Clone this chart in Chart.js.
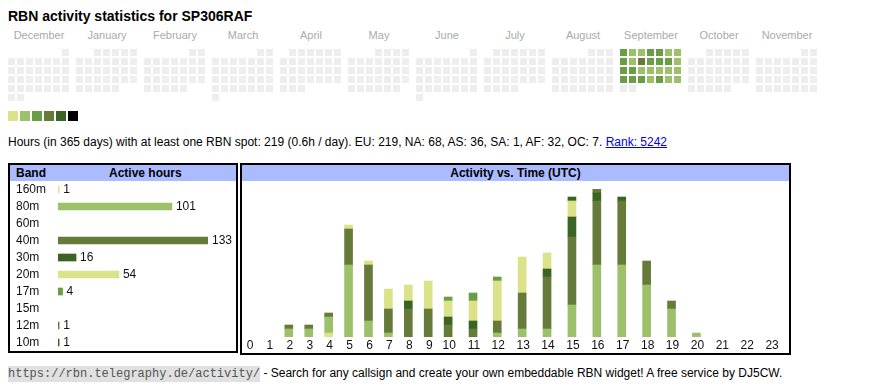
<!DOCTYPE html>
<html>
<head>
<meta charset="utf-8">
<title>RBN activity statistics for SP306RAF</title>
<script src="https://cdn.jsdelivr.net/npm/chart.js@4.4.0/dist/chart.umd.min.js"></script>
<style>
  body { margin: 0; background: #fff; font-family: Arial, "Liberation Sans", sans-serif; color: #000; }
  .abs { position: absolute; line-height: 1; white-space: nowrap; }
  #title { left: 8px; top: 9px; font-size: 14px; font-weight: bold; }
  .month { position: absolute; top: 30px; width: 62px; text-align: center; font-size: 11px; line-height: 1; color: #aaa; }
  .legend { position: absolute; top: 111px; width: 10px; height: 10px; }
  #summary { left: 8px; top: 136px; font-size: 12px; }
  #summary a { color: #00e; text-decoration: underline; }
  .box { position: absolute; border: 2px solid #000; box-sizing: border-box; }
  .head { position: absolute; left: 0; right: 0; top: 0; height: 16px; background: #aabbff; font-weight: bold; font-size: 12px; line-height: 16px; }
  canvas { position: absolute; }
  #footer { left: 8px; top: 367px; font-size: 12px; }
  #footer code { font-family: "Liberation Mono", "DejaVu Sans Mono", monospace; font-size: 12px; background: #e0e0e0; color: #555; padding: 1px 0; }
</style>
</head>
<body>
<div id="title" class="abs">RBN activity statistics for SP306RAF</div>
<div id="months"></div>
<canvas id="calendar" width="830" height="70" style="left:0;top:40px;width:830px;height:70px"></canvas>
<div id="legend"></div>
<div id="summary" class="abs">Hours (in 365 days) with at least one RBN spot: 219 (0.6h / day). EU: 219, NA: 68, AS: 36, SA: 1, AF: 32, OC: 7. <a href="#">Rank: 5242</a></div>

<div class="box" style="left:8px;top:163px;width:230px;height:190px">
  <div class="head"><span style="position:absolute;left:6px">Band</span><span style="position:absolute;left:99px">Active hours</span></div>
</div>
<canvas id="bands" width="226" height="170" style="left:10px;top:181px;width:226px;height:170px"></canvas>

<div class="box" style="left:240px;top:163px;width:551px;height:192px">
  <div class="head" style="text-align:center">Activity vs. Time (UTC)</div>
</div>
<canvas id="activity" width="547" height="172" style="left:242px;top:181px;width:547px;height:172px"></canvas>

<div id="footer" class="abs"><code>https://rbn.telegraphy.de/activity/</code> - Search for any callsign and create your own embeddable RBN widget! A free service by DJ5CW.</div>

<script>
// calendar: 12 months, Dec 2024 .. Nov 2025
const monthNames = ["December", "January", "February", "March", "April", "May",
  "June", "July", "August", "September", "October", "November"];
const firstYear = 2024, firstMonth = 11;
// activity level per day in September (0 = none)
const septemberLevels = [3, 2, 2, 3, 3, 2, 2,
  3, 2, 4, 3, 3, 3, 2,
  3, 3, 2, 2, 2, 2, 2,
  3, 3, 3, 2, 3, 2, 2,
  0, 0];
const todayMonth = "November", todayDay = 29;
const levelColors = ["#eeeeee", "#dce28a", "#9dc16a", "#6a9e46", "#667a3a", "#3a6424", "#000000"];
const legendColors = ["#dce28a", "#9dc16a", "#6a9e46", "#667a3a", "#3a6424", "#000000"];

// bands
const bandNames = ["160m", "80m", "60m", "40m", "30m", "20m", "17m", "15m", "12m", "10m"];
const bandHours = [1, 101, 0, 133, 16, 54, 4, 0, 1, 1];
const bandColors = ["#dce28a", "#9dc16a", "#6a9e46", "#667a3a", "#3a6424",
  "#dce28a", "#6a9e46", "#9dc16a", "#667a3a", "#3a6424"];

// activity per UTC hour, one list per band
const hourLabels = ["0", "1", "2", "3", "4", "5", "6", "7", "8", "9", "10", "11",
  "12", "13", "14", "15", "16", "17", "18", "19", "20", "21", "22", "23"];
const hours160 = [0, 0, 0, 0, 1, 0, 0, 0, 0, 0, 0, 0, 0, 0, 0, 0, 0, 0, 0, 0, 0, 0, 0, 0];
const hours80  = [0, 0, 2, 2, 4, 18, 4, 1, 0, 0, 0, 0, 1, 2, 2, 8, 18, 18, 13, 7, 1, 0, 0, 0];
const hours60  = [0, 0, 0, 0, 0, 0, 0, 0, 0, 0, 0, 0, 0, 0, 0, 0, 0, 0, 0, 0, 0, 0, 0, 0];
const hours40  = [0, 0, 1, 1, 1, 9, 14, 6, 7, 7, 3, 2, 3, 9, 13, 17, 16, 16, 6, 2, 0, 0, 0, 0];
const hours30  = [0, 0, 0, 0, 0, 0, 0, 0, 2, 0, 2, 2, 0, 0, 2, 5, 2, 1, 0, 0, 0, 0, 0, 0];
const hours20  = [0, 0, 0, 0, 0, 1, 1, 5, 4, 7, 4, 5, 10, 9, 4, 4, 0, 0, 0, 0, 0, 0, 0, 0];
const hours17  = [0, 0, 0, 0, 0, 0, 0, 0, 0, 0, 1, 2, 1, 0, 0, 0, 0, 0, 0, 0, 0, 0, 0, 0];
const hours15  = [0, 0, 0, 0, 0, 0, 0, 0, 0, 0, 0, 0, 0, 0, 0, 0, 0, 0, 0, 0, 0, 0, 0, 0];
const hours12  = [0, 0, 0, 0, 0, 0, 0, 0, 0, 0, 0, 0, 0, 0, 0, 0, 1, 0, 0, 0, 0, 0, 0, 0];
const hours10  = [0, 0, 0, 0, 0, 0, 0, 0, 0, 0, 0, 0, 0, 0, 0, 1, 0, 0, 0, 0, 0, 0, 0, 0];
const hoursByBand = [hours160, hours80, hours60, hours40, hours30, hours20, hours17, hours15, hours12, hours10];

Chart.defaults.font.family = 'Arial, "Liberation Sans", sans-serif';
Chart.defaults.font.size = 12;
Chart.defaults.color = "#000";
Chart.defaults.layout.autoPadding = false;
Chart.defaults.maintainAspectRatio = false;

// scales must not push the plot area in for half-label overhang
function noScalePadding(s) {
  s.paddingTop = 0; s.paddingBottom = 0; s.paddingLeft = 0; s.paddingRight = 0;
}

// layout of the calendar grid (px)
const CAL_LEFT = 8, CAL_TOP = 49, CELL = 9, MONTH_W = 68;

// month labels and colour legend
const monthsDiv = document.getElementById("months");
monthNames.forEach((name, m) => {
  const d = document.createElement("div");
  d.className = "month";
  d.style.left = (CAL_LEFT + m * MONTH_W) + "px";
  d.textContent = name;
  monthsDiv.appendChild(d);
});
const legendDiv = document.getElementById("legend");
legendColors.forEach((c, i) => {
  const d = document.createElement("div");
  d.className = "legend";
  d.style.left = (8 + i * 12) + "px";
  d.style.background = c;
  legendDiv.appendChild(d);
});

// one point per day
const dayPoints = [];
const todayPoint = [];
monthNames.forEach((name, m) => {
  const start = new Date(Date.UTC(firstYear, firstMonth + m, 1));
  const y = start.getUTCFullYear(), mo = start.getUTCMonth();
  const days = new Date(Date.UTC(y, mo + 1, 0)).getUTCDate();
  const offset = (start.getUTCDay() + 6) % 7; // monday first
  for (let d = 1; d <= days; d++) {
    const slot = offset + d - 1;
    const pt = {
      x: CAL_LEFT + m * MONTH_W + (slot % 7) * CELL + 3.5,
      y: CAL_TOP + Math.floor(slot / 7) * CELL + 3.5,
      lvl: name === "September" ? septemberLevels[d - 1] : 0
    };
    dayPoints.push(pt);
    if (name === todayMonth && d === todayDay) todayPoint.push(pt);
  }
});

new Chart(document.getElementById("calendar"), {
  type: "scatter",
  data: {
    datasets: [
      {
        data: dayPoints,
        pointStyle: "rect",
        pointRadius: 3.5 / Math.SQRT1_2,
        pointHoverRadius: 3.5 / Math.SQRT1_2,
        pointBorderWidth: 0,
        pointHoverBorderWidth: 0,
        pointBorderColor: "rgba(0,0,0,0)",
        pointBackgroundColor: ctx => levelColors[ctx.raw ? ctx.raw.lvl : 0]
      },
      {
        data: todayPoint,
        pointStyle: "rect",
        pointRadius: 3 / Math.SQRT1_2,
        pointHoverRadius: 3 / Math.SQRT1_2,
        pointBorderWidth: 1,
        pointBorderColor: "#ff0000",
        pointBackgroundColor: "#ffffff"
      }
    ]
  },
  options: {
    responsive: false,
    animation: false,
    events: [],
    layout: { padding: 0 },
    scales: {
      x: { type: "linear", display: false, min: 0, max: 830 },
      y: { type: "linear", display: false, min: 40, max: 110, reverse: true }
    },
    plugins: { legend: { display: false }, tooltip: { enabled: false } }
  }
});

// band table
const valueLabels = {
  id: "valueLabels",
  afterDatasetsDraw(chart) {
    const ctx = chart.ctx;
    const meta = chart.getDatasetMeta(0);
    ctx.save();
    ctx.font = '12px Arial, "Liberation Sans", sans-serif';
    ctx.fillStyle = "#111";
    ctx.textBaseline = "middle";
    ctx.textAlign = "left";
    meta.data.forEach((bar, i) => {
      if (bandHours[i] > 0) ctx.fillText(String(bandHours[i]), bar.x + 4, bar.y);
    });
    ctx.restore();
  }
};

new Chart(document.getElementById("bands"), {
  type: "bar",
  data: {
    labels: bandNames,
    datasets: [{
      data: bandHours.map(v => v > 0 ? v : null),
      backgroundColor: bandColors,
      barThickness: 7,
      borderWidth: 0
    }]
  },
  options: {
    indexAxis: "y",
    responsive: false,
    animation: false,
    events: [],
    layout: { padding: { left: 6, right: 28, top: 0, bottom: 0 } },
    scales: {
      x: { display: false, min: 0, max: Math.max(...bandHours) },
      y: {
        grid: { display: false, drawTicks: false },
        border: { display: false },
        ticks: { crossAlign: "far", color: "#111", padding: 0, autoSkip: false },
        afterFit: s => { s.width = 42; noScalePadding(s); }
      }
    },
    plugins: { legend: { display: false }, tooltip: { enabled: false } }
  },
  plugins: [valueLabels]
});

// activity vs time: columns sized like an auto table (label width + padding)
const plotW = 547;
const measure = document.createElement("canvas").getContext("2d");
measure.font = '12px Arial, "Liberation Sans", sans-serif';
const colUnits = hourLabels.map(l => measure.measureText(l).width + 20);
const unitSum = colUnits.reduce((a, b) => a + b, 0);
const hourX = [];
let acc = 0;
colUnits.forEach(u => { hourX.push(acc + 7); acc += u * plotW / unitSum; });

const maxTotal = Math.max(...hourLabels.map((_, i) => hoursByBand.reduce((s, b) => s + b[i], 0)));

// hour labels under the bars, placed through the x scale
const hourTicks = {
  id: "hourTicks",
  afterDraw(chart) {
    const ctx = chart.ctx;
    const xs = chart.scales.x;
    ctx.save();
    ctx.font = '12px Arial, "Liberation Sans", sans-serif';
    ctx.fillStyle = "#111";
    ctx.textAlign = "center";
    ctx.textBaseline = "middle";
    hourLabels.forEach((l, i) => {
      ctx.fillText(l, xs.getPixelForValue(hourX[i] + 1), chart.chartArea.bottom + 9);
    });
    ctx.restore();
  }
};

new Chart(document.getElementById("activity"), {
  type: "bar",
  data: {
    datasets: hoursByBand.map((vals, b) => ({
      label: bandNames[b],
      data: vals.map((v, i) => ({ x: hourX[i], y: v > 0 ? v : null })),
      backgroundColor: bandColors[b],
      barThickness: 8,
      borderWidth: 0
    }))
  },
  options: {
    responsive: false,
    animation: false,
    events: [],
    layout: { padding: { left: 0, right: 0, top: 8, bottom: 16 } },
    scales: {
      x: { type: "linear", display: false, stacked: true, offset: false, min: 0, max: plotW },
      y: { display: false, stacked: true, min: 0, max: maxTotal }
    },
    plugins: { legend: { display: false }, tooltip: { enabled: false } }
  },
  plugins: [hourTicks]
});
</script>
</body>
</html>
